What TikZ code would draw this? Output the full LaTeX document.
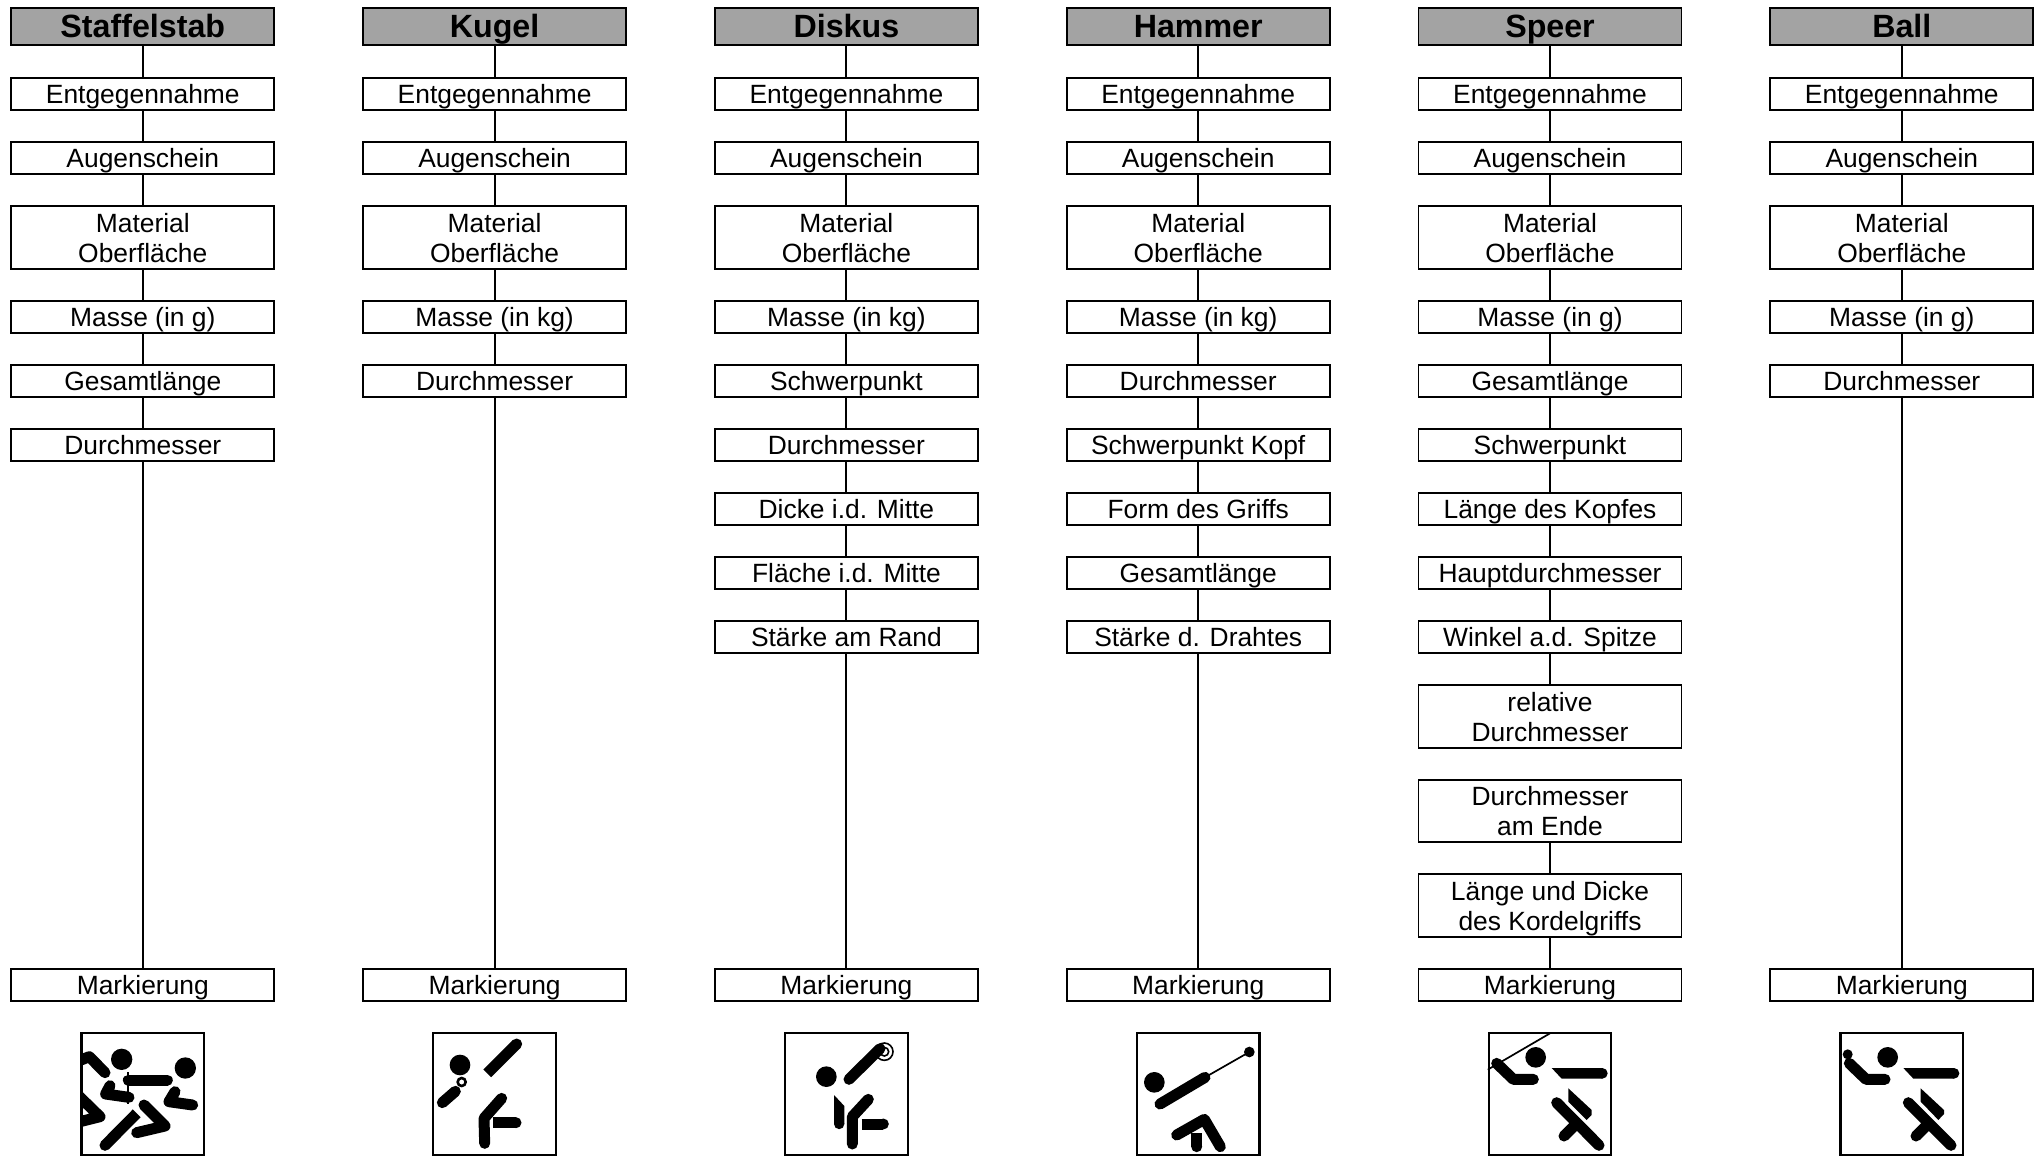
\documentclass[tikz,border=0pt]{standalone}
\usepackage{fontspec}
\setmainfont{Liberation Sans}
\newcommand\lbl[1]{\raisebox{0pt}[19.6pt][0pt]{#1}}
\newcommand\hlbl[1]{\raisebox{0pt}[22.6pt][0pt]{#1}}
\tikzset{
  cell/.style={draw=black,line width=1.9pt,fill=white,inner sep=0pt,outer sep=0pt,minimum width=263pt,minimum height=32pt,align=center,font=\fontsize{26.4}{30}\selectfont},
  cellii/.style={cell,minimum height=62.5pt},
  head/.style={cell,fill=headgray,minimum height=37pt,font=\fontsize{32.2}{36}\selectfont\bfseries},
  link/.style={draw=black,line width=1.9pt},
  frame/.style={draw=black,line width=2.2pt,fill=white,inner sep=0pt,outer sep=0pt,minimum width=122.5pt,minimum height=122pt},
  ink/.style={draw=black,line width=11pt,line cap=round,line join=round},
  inkb/.style={draw=black,line width=11pt,line cap=butt,line join=round},
  blob/.style={fill=black,draw=none}
}
\definecolor{headgray}{HTML}{A3A3A3}
\newcommand\toprows[1]{%
  \node[head] (h) at (142.8,26.5) {\hlbl{#1}};
  \node[cell] (e) at (142.8,94) {\lbl{Entgegennahme}};
  \node[cell] (a) at (142.8,158) {\lbl{Augenschein}};
  \node[cellii] (m) at (142.8,237.5) {\lbl{Material}\\\lbl{Oberfläche}};
  \draw[link] (h) -- (e) (e) -- (a) (a) -- (m);
}
\begin{document}
\begin{tikzpicture}[x=1pt,y=-1pt]
\useasboundingbox (0,0) rectangle (2044,1156);
\fill[white] (0,0) rectangle (2044,1156);

% Staffelstab
\begin{scope}[xshift=0pt,name prefix=c1-]
\toprows{Staffelstab}
\node[cell] (r1) at (142.8,317) {\lbl{Masse (in g)}};
\node[cell] (r2) at (142.8,381) {\lbl{Gesamtlänge}};
\node[cell] (r3) at (142.8,445) {\lbl{Durchmesser}};
\node[cell] (z) at (142.8,985) {\lbl{Markierung}};
\draw[link] (m) -- (r1) (r1) -- (r2) (r2) -- (r3) (r3) -- (z);
\node[frame] (icon) at (142.8,1094) {};
\end{scope}
% Kugel
\begin{scope}[xshift=351.8pt,name prefix=c2-]
\toprows{Kugel}
\node[cell] (r1) at (142.8,317) {\lbl{Masse (in kg)}};
\node[cell] (r2) at (142.8,381) {\lbl{Durchmesser}};
\node[cell] (z) at (142.8,985) {\lbl{Markierung}};
\draw[link] (m) -- (r1) (r1) -- (r2) (r2) -- (z);
\node[frame] (icon) at (142.8,1094) {};
\end{scope}
% Diskus
\begin{scope}[xshift=703.6pt,name prefix=c3-]
\toprows{Diskus}
\node[cell] (r1) at (142.8,317) {\lbl{Masse (in kg)}};
\node[cell] (r2) at (142.8,381) {\lbl{Schwerpunkt}};
\node[cell] (r3) at (142.8,445) {\lbl{Durchmesser}};
\node[cell] (r4) at (142.8,509) {\lbl{Dicke i.d. Mitte}};
\node[cell] (r5) at (142.8,573) {\lbl{Fläche i.d. Mitte}};
\node[cell] (r6) at (142.8,637) {\lbl{Stärke am Rand}};
\node[cell] (z) at (142.8,985) {\lbl{Markierung}};
\draw[link] (m) -- (r1) (r1) -- (r2) (r2) -- (r3) (r3) -- (r4) (r4) -- (r5) (r5) -- (r6) (r6) -- (z);
\node[frame] (icon) at (142.8,1094) {};
\end{scope}
% Hammer
\begin{scope}[xshift=1055.4pt,name prefix=c4-]
\toprows{Hammer}
\node[cell] (r1) at (142.8,317) {\lbl{Masse (in kg)}};
\node[cell] (r2) at (142.8,381) {\lbl{Durchmesser}};
\node[cell] (r3) at (142.8,445) {\lbl{Schwerpunkt Kopf}};
\node[cell] (r4) at (142.8,509) {\lbl{Form des Griffs}};
\node[cell] (r5) at (142.8,573) {\lbl{Gesamtlänge}};
\node[cell] (r6) at (142.8,637) {\lbl{Stärke d. Drahtes}};
\node[cell] (z) at (142.8,985) {\lbl{Markierung}};
\draw[link] (m) -- (r1) (r1) -- (r2) (r2) -- (r3) (r3) -- (r4) (r4) -- (r5) (r5) -- (r6) (r6) -- (z);
\node[frame] (icon) at (142.8,1094) {};
\end{scope}
% Speer
\begin{scope}[xshift=1407.2pt,name prefix=c5-]
\toprows{Speer}
\node[cell] (r1) at (142.8,317) {\lbl{Masse (in g)}};
\node[cell] (r2) at (142.8,381) {\lbl{Gesamtlänge}};
\node[cell] (r3) at (142.8,445) {\lbl{Schwerpunkt}};
\node[cell] (r4) at (142.8,509) {\lbl{Länge des Kopfes}};
\node[cell] (r5) at (142.8,573) {\lbl{Hauptdurchmesser}};
\node[cell] (r6) at (142.8,637) {\lbl{Winkel a.d. Spitze}};
\node[cellii] (r7) at (142.8,716.5) {\lbl{relative}\\\lbl{Durchmesser}};
\node[cellii] (r8) at (142.8,811) {\lbl{Durchmesser}\\\lbl{am Ende}};
\node[cellii] (r9) at (142.8,905.5) {\lbl{Länge und Dicke}\\\lbl{des Kordelgriffs}};
\node[cell] (z) at (142.8,985) {\lbl{Markierung}};
\draw[link] (m) -- (r1) (r1) -- (r2) (r2) -- (r3) (r3) -- (r4) (r4) -- (r5) (r5) -- (r6) (r6) -- (r7) (r8) -- (r9) (r9) -- (z);
\node[frame] (icon) at (142.8,1094) {};
\end{scope}
% Ball
\begin{scope}[xshift=1759pt,name prefix=c6-]
\toprows{Ball}
\node[cell] (r1) at (142.8,317) {\lbl{Masse (in g)}};
\node[cell] (r2) at (142.8,381) {\lbl{Durchmesser}};
\node[cell] (z) at (142.8,985) {\lbl{Markierung}};
\draw[link] (m) -- (r1) (r1) -- (r2) (r2) -- (z);
\node[frame] (icon) at (142.8,1094) {};
\end{scope}

% ---- pictograms, in coordinates of a 3x crop ----
% relay
\begin{scope}[shift={(60,1020)},x=.33333pt,y=-.33333pt]
\begin{scope}
\clip (65,43) rectangle (431,402);
\fill[blob] (185,118) circle (32) (376,144) circle (32);
\draw[ink] (205,180) -- (322,180);
\draw[draw=black,line width=2pt] (204,157) -- (204,252);
\draw[ink] (150,197) -- (137,222) -- (207,232);
\draw[ink] (50,125) -- (88,110) -- (135,158);
\draw[ink] (40,212) -- (120,290) -- (40,310);
\draw[ink] (345,215) -- (327,245) -- (398,255);
\draw[inkb] (230,280) -- (135,376);
\fill[blob] (135,376) circle (16.5);
\draw[ink] (252,255) -- (315,318) -- (230,338);
\end{scope}
\end{scope}
% shot
\begin{scope}[shift={(410,1020)},x=.33333pt,y=-.33333pt]
\fill[blob] (150,135) circle (31);
\draw[ink] (97,248) -- (136,214);
\draw[draw=black,fill=white,line width=2.6pt] (155,186) circle (12);
\draw[inkb] (232,160) -- (320,72);
\fill[blob] (320,72) circle (16.5);
\draw[ink] (275,235) -- (222,295) -- (224,370);
\draw[inkb] (250,308) -- (318,308);
\fill[blob] (318,308) circle (16.5);
\end{scope}
% discus
\begin{scope}[shift={(765,1020)},x=.33333pt,y=-.33333pt]
\fill[blob] (184,170) circle (31);
\draw[draw=black,line width=1.6pt] (358,95) circle (26);
\draw[draw=black,line width=1.6pt] (358,95) circle (13);
\draw[ink] (252,178) -- (345,86);
\fill[blob] (207,225) -- (238,258) -- (238,312) -- (207,312) -- cycle;
\fill[blob] (222.5,312) circle (15.5);
\draw[ink] (310,238) -- (262,290) -- (262,372);
\draw[inkb] (290,312) -- (355,312);
\fill[blob] (355,312) circle (16.5);
\end{scope}
% hammer
\begin{scope}[shift={(1115,1020)},x=.33333pt,y=-.33333pt]
\fill[blob] (118,187) circle (31);
\draw[draw=black,line width=1.7pt] (270,172) -- (403,96);
\fill[blob] (403,96) circle (16);
\draw[ink] (135,252) -- (270,172);
\draw[ink] (185,345) -- (268,298) -- (316,380);
\draw[inkb] (245,340) -- (245,380);
\fill[blob] (245,380) circle (16.5);
\end{scope}
% javelin
\begin{scope}[shift={(1465,1020)},x=.33333pt,y=-.33333pt]
\begin{scope}
\clip (68,40) rectangle (438,405);
\draw[draw=black,line width=1.7pt] (68,149) -- (255,40);
\end{scope}
\fill[blob] (212,112) circle (31);
\draw[ink] (95,130) -- (145,178) -- (205,178);
\fill[blob] (260,144) -- (412,144) -- (412,176) -- (290,176) -- cycle;
\fill[blob] (412,160) circle (16);
\draw[ink] (275,248) -- (402,376);
\fill[blob] (310,205) -- (380,270) -- (380,285) -- (365,300) -- (310,245) -- cycle;
\draw[inkb] (325,320) -- (297,348);
\fill[blob] (297,348) circle (16.5);
\end{scope}
% ball
\begin{scope}[shift={(1820,1020)},x=.33333pt,y=-.33333pt]
\fill[blob] (203,112) circle (31) (83,103) circle (15);
\draw[ink] (88,130) -- (138,178) -- (195,178);
\fill[blob] (250,144) -- (402,144) -- (402,176) -- (280,176) -- cycle;
\fill[blob] (402,160) circle (16);
\draw[ink] (265,248) -- (393,376);
\fill[blob] (302,205) -- (372,270) -- (372,282) -- (355,300) -- (302,245) -- cycle;
\draw[inkb] (316,320) -- (288,348);
\fill[blob] (288,348) circle (16.5);
\end{scope}
\end{tikzpicture}
\end{document}
